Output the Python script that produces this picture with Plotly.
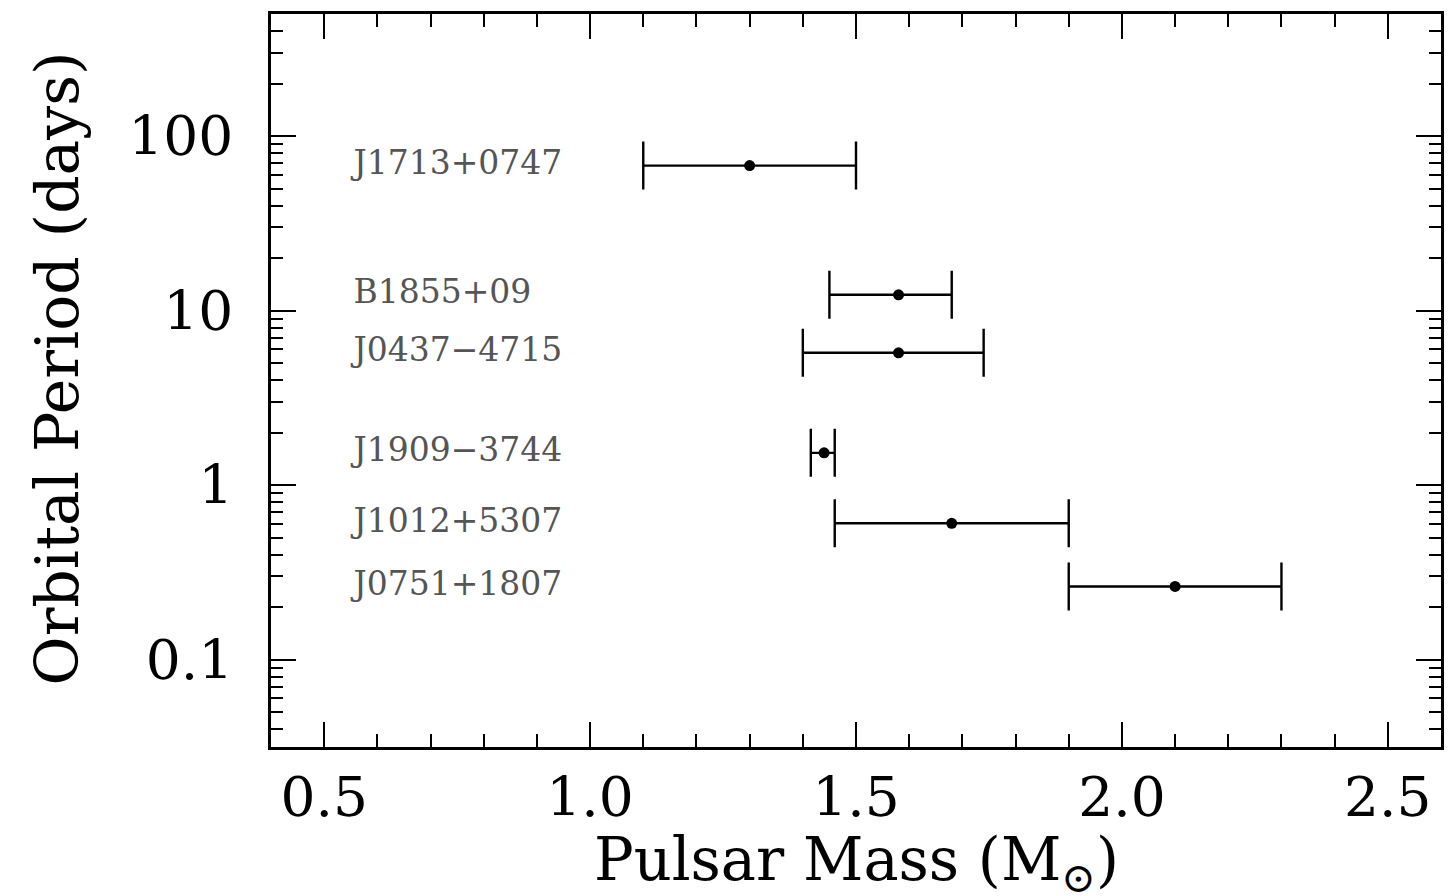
import plotly.graph_objects as go

names = ["J1713+0747", "B1855+09", "J0437\u22124715", "J1909\u22123744", "J1012+5307", "J0751+1807"]
mass = [1.30, 1.58, 1.58, 1.44, 1.68, 2.10]
mass_lo = [1.10, 1.45, 1.40, 1.415, 1.46, 1.90]
mass_hi = [1.50, 1.68, 1.74, 1.46, 1.90, 2.30]
period = [67.8, 12.33, 5.74, 1.533, 0.605, 0.263]
label_x = [0.555] * len(names)

x_ticks = [0.5, 1.0, 1.5, 2.0, 2.5]
x_tick_text = ["0.5", "1.0", "1.5", "2.0", "2.5"]
y_ticks = [0.1, 1, 10, 100]
y_tick_text = ["0.1", "1", "10", "100"]

err_plus = [h - m for h, m in zip(mass_hi, mass)]
err_minus = [m - l for m, l in zip(mass, mass_lo)]

FONT = "DejaVu Serif"

fig = go.Figure()
fig.add_trace(go.Scatter(
    x=mass, y=period, mode="markers",
    marker=dict(color="black", size=11),
    error_x=dict(type="data", symmetric=False, array=err_plus, arrayminus=err_minus,
                 color="black", thickness=2.4, width=24),
    showlegend=False, hoverinfo="skip",
))
fig.add_trace(go.Scatter(
    x=label_x, y=period, mode="text", text=names, textposition="middle right",
    textfont=dict(family=FONT, size=33, color="#555555"),
    showlegend=False, hoverinfo="skip",
))

axis_common = dict(
    showline=True, linecolor="black", linewidth=2.5, mirror="allticks",
    ticks="inside", tickcolor="black", tickwidth=2, ticklen=25,
    showgrid=False, zeroline=False, automargin=False,
    tickfont=dict(family=FONT, size=55, color="black"),
)

fig.update_xaxes(
    range=[0.4, 2.6], tickvals=x_ticks, ticktext=x_tick_text,
    minor=dict(ticks="inside", dtick=0.1, ticklen=13, tickwidth=2, tickcolor="black", showgrid=False),
    ticklabelstandoff=0,
    **axis_common,
)
fig.update_yaxes(
    type="log", range=[-1.5, 2.7], tickvals=y_ticks, ticktext=y_tick_text,
    minor=dict(ticks="inside", dtick="D1", ticklen=12, tickwidth=2, tickcolor="black", showgrid=False),
    ticklabelstandoff=24,
    **axis_common,
)

fig.add_annotation(
    text="Pulsar Mass (M<sub>\u2299</sub>)", xref="paper", yref="paper",
    x=0.5, y=0, xanchor="center", yanchor="middle", yshift=-116,
    showarrow=False, font=dict(family=FONT, size=59, color="black"),
)
fig.add_annotation(
    text="Orbital Period (days)", xref="paper", yref="paper",
    x=0, y=0.5, xanchor="center", yanchor="middle", xshift=-215, yshift=12,
    textangle=-90, showarrow=False, font=dict(family=FONT, size=60, color="black"),
)

fig.update_layout(
    width=1445, height=888,
    margin=dict(l=263, r=12, t=6, b=149),
    plot_bgcolor="white", paper_bgcolor="white",
)

fig.write_html("out.html")
